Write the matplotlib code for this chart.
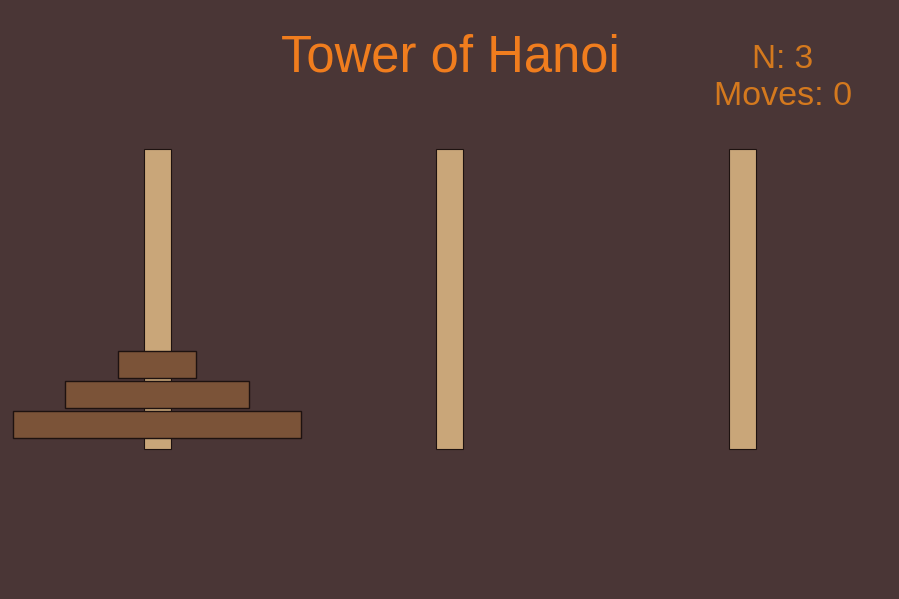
import matplotlib.pyplot as plt
from matplotlib.patches import Rectangle

# Layout of the puzzle (pixel coordinates, y grows downwards)
peg_centers = [157.5, 449.5, 742.5]
peg_top = 149
peg_height = 300
peg_width = 27

disk_widths = [78, 184, 288]      # smallest to largest, all on first peg
disk_tops = [351, 381, 411]
disk_height = 28

n_disks = 3
moves = 0

bg = '#4a3636'
peg_color = '#c9a679'
disk_color = '#7b5338'
edge = '#1e1210'

fig = plt.figure(figsize=(8.99, 5.99), dpi=100, facecolor=bg)
ax = fig.add_axes([0, 0, 1, 1])
ax.set_facecolor(bg)
ax.set_xlim(0, 899)
ax.set_ylim(599, 0)
ax.axis('off')

for cx in peg_centers:
    ax.add_patch(Rectangle((cx - peg_width / 2, peg_top), peg_width, peg_height,
                           facecolor=peg_color, edgecolor=edge, linewidth=0.8))

disk_cx = peg_centers[0] - 0.5
for w, top in zip(disk_widths, disk_tops):
    ax.add_patch(Rectangle((disk_cx - w / 2, top), w, disk_height - 1,
                           facecolor=disk_color, edgecolor=edge, linewidth=1.0, zorder=3))

ax.text(450, 58.5, 'Tower of Hanoi', fontsize=36.5, color='#f07d1e',
        family='Liberation Sans', ha='center', va='center')
ax.text(783, 60, f'N: {n_disks}', fontsize=24, color='#d4791e',
        family='Liberation Sans', ha='center', va='center')
ax.text(783, 96.5, f'Moves: {moves}', fontsize=24.5, color='#d4791e',
        family='Liberation Sans', ha='center', va='center')

fig.savefig('out.png', dpi=100, facecolor=bg)
